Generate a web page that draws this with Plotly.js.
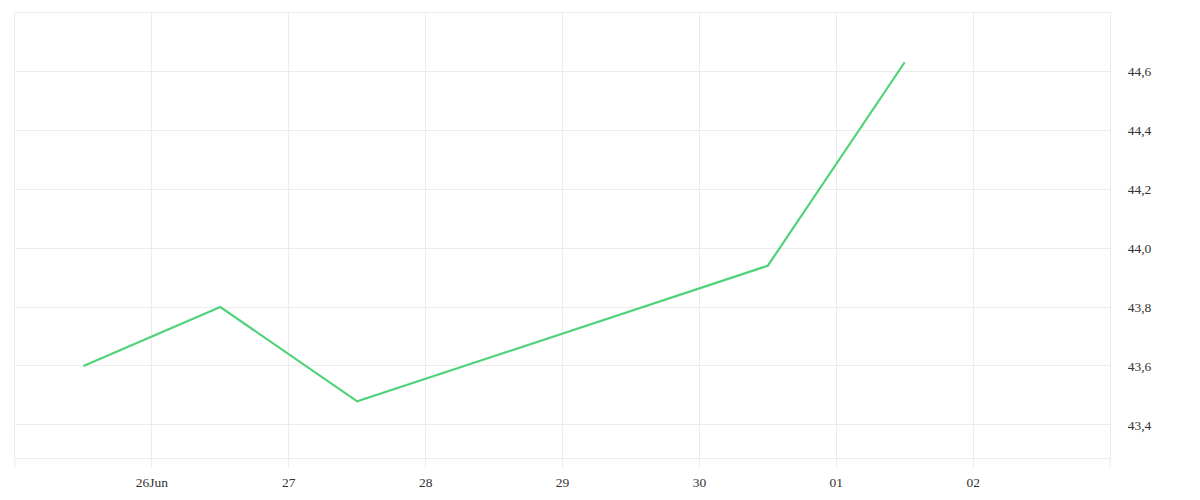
<!DOCTYPE html>
<html>
<head>
<meta charset="utf-8">
<script src="https://cdn.plot.ly/plotly-3.0.1.min.js"></script>
<style>html,body{margin:0;padding:0;background:#fff;}#chart{width:1200px;height:500px;}</style>
</head>
<body>
<div id="chart"></div>
<script>
var dates = ["2024-06-25 12:00", "2024-06-26 12:00", "2024-06-27 12:00", "2024-06-30 12:00", "2024-07-01 12:00"];
var values = [43.60, 43.80, 43.48, 43.94, 44.63];
var tickDates = ["2024-06-26", "2024-06-27", "2024-06-28", "2024-06-29", "2024-06-30", "2024-07-01", "2024-07-02"];
var tickLabels = ["26Jun", "27", "28", "29", "30", "01", "02"];
var yTicks = [43.4, 43.6, 43.8, 44.0, 44.2, 44.4, 44.6];

var grid = "#ececec";
var trace = {
  x: dates, y: values, type: "scatter", mode: "lines",
  line: {color: "#4fd27a", width: 2.2},
  hoverinfo: "x+y"
};
var layout = {
  width: 1200, height: 500,
  margin: {l: 15, r: 90, t: 13, b: 42},
  paper_bgcolor: "#fff", plot_bgcolor: "#fff",
  separators: ",.",
  showlegend: false,
  font: {family: "Liberation Serif, DejaVu Serif, serif", size: 13, color: "#333"},
  xaxis: {
    type: "date",
    range: ["2024-06-25 00:00", "2024-07-03 00:00"],
    tickvals: tickDates, ticktext: tickLabels,
    showgrid: true, gridcolor: grid, gridwidth: 1,
    ticks: "outside", ticklen: 9, tickcolor: grid, tickwidth: 1,
    showline: true, linecolor: grid, linewidth: 1, mirror: true,
    zeroline: false,
    ticklabelstandoff: 3,
    tickfont: {size: 13.5, color: "#333"}
  },
  yaxis: {
    side: "right",
    range: [43.288, 44.797],
    tickvals: yTicks,
    tickformat: ".1f",
    showgrid: true, gridcolor: grid, gridwidth: 1,
    ticks: "", showline: true, linecolor: grid, linewidth: 1, mirror: true,
    zeroline: false,
    ticklabelstandoff: 14,
    tickfont: {size: 13.5, color: "#333"}
  },
  shapes: [
    {type: "line", xref: "paper", yref: "paper", x0: 0, x1: 0, y0: 0, y1: -0.022, line: {color: grid, width: 1}},
    {type: "line", xref: "paper", yref: "paper", x0: 1, x1: 1, y0: 0, y1: -0.022, line: {color: grid, width: 1}}
  ]
};
Plotly.newPlot("chart", [trace], layout, {displayModeBar: false, staticPlot: true});
</script>
</body>
</html>
